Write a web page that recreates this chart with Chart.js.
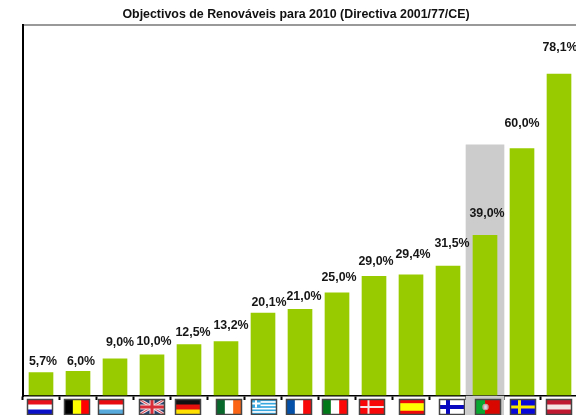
<!DOCTYPE html>
<html>
<head>
<meta charset="utf-8">
<style>
html,body{margin:0;padding:0;background:#fff;overflow:hidden;width:576px;height:415px}
canvas{display:block}
</style>
<script src="https://cdn.jsdelivr.net/npm/chart.js@4"></script>
</head>
<body>
<canvas id="c" width="578" height="415"></canvas>
<script>
const titleText = 'Objectivos de Renováveis para 2010 (Directiva 2001/77/CE)';
const countries = ['Holanda','Bélgica','Luxemburgo','Reino Unido','Alemanha','Irlanda','Grécia','França','Itália','Dinamarca','Espanha','Finlândia','Portugal','Suécia','Áustria'];
const targets = [5.7,6.0,9.0,10.0,12.5,13.2,20.1,21.0,25.0,29.0,29.4,31.5,39.0,60.0,78.1];
const highlight = [null,null,null,null,null,null,null,null,null,null,null,null,60.9,null,null];

// Placement of the hand-positioned labels and flags in the original
const labelLift = [11,10,16,13,12,16,11,13,15,15,20,23,22,25,26];
const labelNudge = [2,3,5,2,4,5,6,4,2,2,2,4,2,0,1];
const flagNudge = [-1,-1,-4,0,-1,3,1,-1,-2,-2,1,4,3,1,0];

const stripesH = (c,cols,w)=>{const t=w||cols.map(()=>1),s=t.reduce((a,b)=>a+b);let y=0;
  cols.forEach((k,i)=>{c.fillStyle=k;c.fillRect(0,y,25,15*t[i]/s+.5);y+=15*t[i]/s;});};
const stripesV = (c,cols)=>{cols.forEach((k,i)=>{c.fillStyle=k;c.fillRect(25*i/cols.length,0,25/cols.length+.5,15);});};
const cross = (c,bg,fg,vx,t)=>{c.fillStyle=bg;c.fillRect(0,0,25,15);c.fillStyle=fg;c.fillRect(vx-t/2,0,t,15);c.fillRect(0,7.5-t/2,25,t);};
const flags = {
  'Holanda':c=>stripesH(c,['#e8101c','#fff','#0a10c8']),
  'Bélgica':c=>stripesV(c,['#000','#ffff00','#ff0000']),
  'Luxemburgo':c=>stripesH(c,['#e80c10','#fff','#58aadc']),
  'Reino Unido':c=>{c.fillStyle='#26406e';c.fillRect(0,0,25,15);
    c.strokeStyle='#f0d8dc';c.lineWidth=3;c.beginPath();c.moveTo(0,0);c.lineTo(25,15);c.moveTo(25,0);c.lineTo(0,15);c.stroke();
    c.strokeStyle='#d8404c';c.lineWidth=1;c.stroke();
    c.fillStyle='#f0e0e0';c.fillRect(10,0,5,15);c.fillRect(0,5,25,5);
    c.fillStyle='#d82c38';c.fillRect(11,0,3,15);c.fillRect(0,6,25,3);},
  'Alemanha':c=>stripesH(c,['#111','#e8100c','#ffe000']),
  'Irlanda':c=>stripesV(c,['#08682c','#fff','#fa6414']),
  'Grécia':c=>{stripesH(c,['#38a8e0','#fff','#38a8e0','#fff','#38a8e0','#fff','#38a8e0','#fff','#38a8e0']);
    c.fillStyle='#38a8e0';c.fillRect(0,0,9,8);c.fillStyle='#fff';c.fillRect(3.5,0,2,8);c.fillRect(0,3,9,2);},
  'França':c=>stripesV(c,['#0450a8','#fff','#f80808']),
  'Itália':c=>stripesV(c,['#007818','#fff','#fc0808']),
  'Dinamarca':c=>cross(c,'#f80808','#f4e8e8',9,2),
  'Espanha':c=>stripesH(c,['#f00808','#ffff00','#f00808'],[1,2,1]),
  'Finlândia':c=>cross(c,'#fff','#0808c0',8.5,4),
  'Portugal':c=>{c.fillStyle='#d80800';c.fillRect(0,0,25,15);c.fillStyle='#08a830';c.fillRect(0,0,9.5,15);
    c.fillStyle='#c8a0a0';c.beginPath();c.arc(10,7.5,3.2,0,7);c.fill();c.fillStyle='#d8d8e8';c.fillRect(8.8,5.8,2.4,3.6);},
  'Suécia':c=>cross(c,'#0808d8','#f8e800',9,3),
  'Áustria':c=>stripesH(c,['#c01830','#f4e4e4','#c01830'])
};

const labelPlugin = {
  id:'valueLabels',
  afterDatasetsDraw(chart){
    const c=chart.ctx, meta=chart.getDatasetMeta(0);
    c.save();
    c.font='bold 12.4px "Liberation Sans", Arial, sans-serif';
    c.fillStyle='#161616';c.textAlign='center';c.textBaseline='middle';
    meta.data.forEach((el,i)=>{
      c.fillText(targets[i].toFixed(1).replace('.',',')+'%',el.x+labelNudge[i],el.y-labelLift[i]);
    });
    c.restore();
  }
};
const flagPlugin = {
  id:'flagTicks',
  beforeDatasetsDraw(chart){
    // continuation of the highlight band under the axis
    const c=chart.ctx, hl=chart.getDatasetMeta(1).data[12], a=chart.chartArea;
    c.save();c.fillStyle='#cccccc';
    c.fillRect(hl.x-hl.width/2,a.bottom,hl.width,chart.height-a.bottom);c.restore();
  },
  afterDraw(chart){
    const c=chart.ctx, x=chart.scales.x, a=chart.chartArea;
    countries.forEach((name,i)=>{
      const fx=Math.round(x.getPixelForValue(i)-13+flagNudge[i]), fy=a.bottom+3;
      c.save();c.translate(fx+.5,fy+.5);
      c.save();c.beginPath();c.rect(0,0,25,15);c.clip();flags[name](c);c.restore();
      c.strokeStyle='#444444';c.lineWidth=1.5;c.strokeRect(0,0,25,15);
      c.restore();
    });
  }
};

new Chart(document.getElementById('c'),{
  type:'bar',
  plugins:[labelPlugin,flagPlugin],
  data:{labels:countries,datasets:[
    {label:'Meta 2010',data:targets,backgroundColor:'#99cc00',barThickness:24,grouped:false,order:1},
    {label:'Destaque',data:highlight,backgroundColor:'#cccccc',barThickness:38,grouped:false,order:2}
  ]},
  options:{
    responsive:false,animation:false,
    layout:{padding:{left:14.5,right:0.5,top:7,bottom:0}},
    plugins:{
      legend:{display:false},tooltip:{enabled:false},
      title:{display:true,text:titleText,color:'#111',
        font:{family:'"Liberation Sans", Arial, sans-serif',size:12.4,weight:'bold',lineHeight:1.2},
        padding:{top:0,bottom:3.1}}
    },
    scales:{
      x:{offset:true,
        ticks:{display:false},
        grid:{drawOnChartArea:false,drawTicks:true,tickLength:4,tickColor:'#000',tickWidth:2,offset:true},
        border:{color:'#000',width:1.5},
        afterFit(s){s.height=19;}
      },
      y:{min:0,max:90,
        ticks:{display:false,stepSize:90},
        grid:{drawTicks:false,lineWidth:2,color:ctx=>ctx.tick&&ctx.tick.value===90?'#999999':'rgba(0,0,0,0)'},
        border:{color:'#000',width:2},
        afterFit(s){s.width=8;}
      }
    }
  }
});
</script>
</body>
</html>
